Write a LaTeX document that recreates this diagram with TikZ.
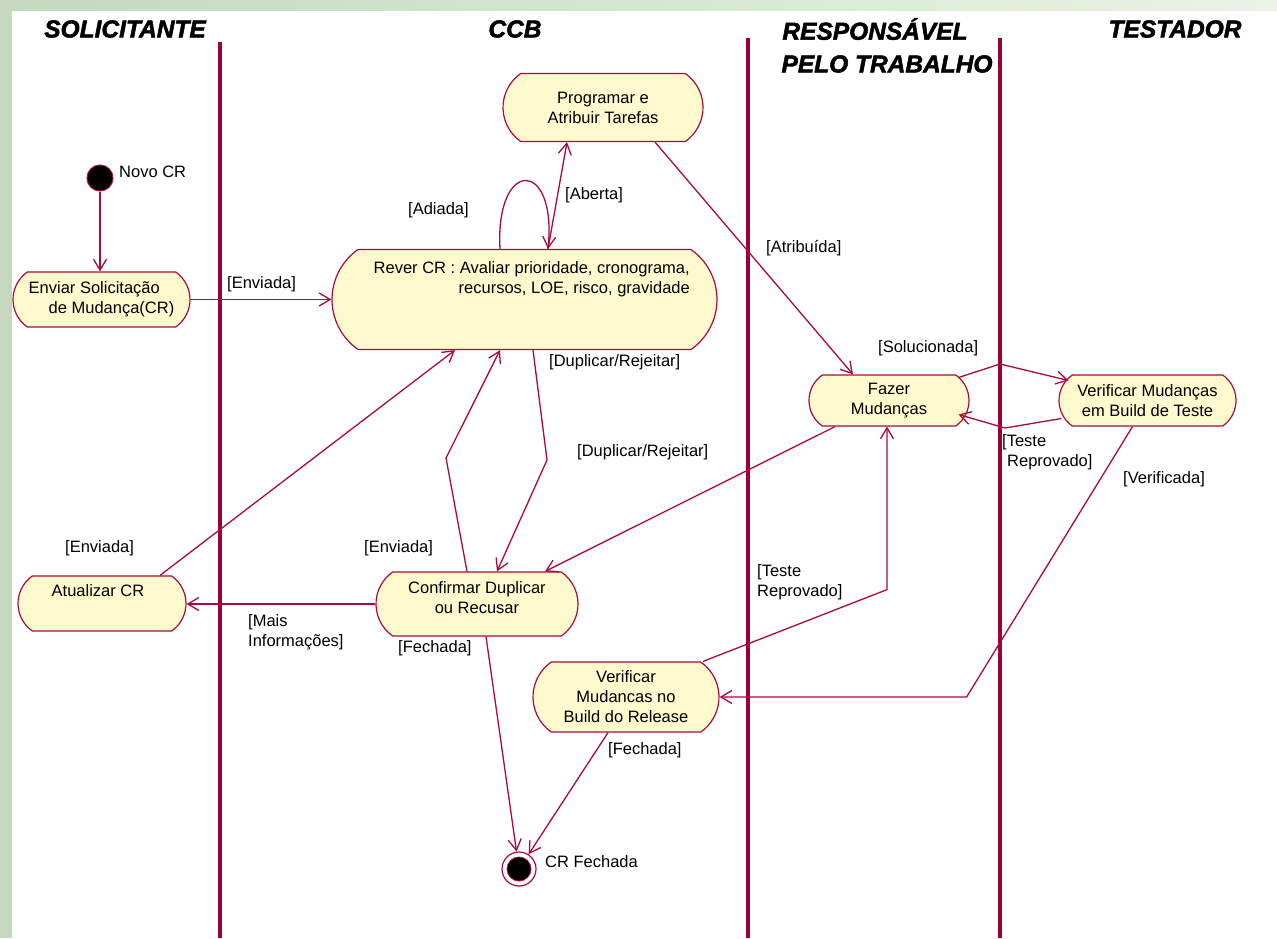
\documentclass[tikz,border=0pt]{standalone}
\usepackage{fontspec}
\setmainfont{Liberation Sans}
\newfontfamily\hdrfont{Liberation Sans Bold Italic}[FakeBold=2]
\usetikzlibrary{shapes.misc,arrows.meta,calc}
\definecolor{lane}{RGB}{155,0,55}
\definecolor{edgecol}{RGB}{170,10,60}
\definecolor{actfill}{RGB}{255,250,205}
\definecolor{frameL}{RGB}{197,216,190}
\definecolor{frameR}{RGB}{232,244,230}
\newcommand\dfont{\fontsize{16.5}{20}\selectfont}
\tikzset{
  act/.style={rounded rectangle, rounded rectangle arc length=110, draw=edgecol, fill=actfill,
    line width=1.2pt, align=center, font=\dfont, inner sep=0pt},
  lbl/.style={font=\dfont, inner sep=0pt, anchor=west, align=left},
  hdr/.style={font=\hdrfont\fontsize{24.5}{28}\selectfont, inner sep=0pt},
  lanestyle/.style={draw=lane, line width=3.5pt},
  conn/.style={draw=edgecol, line width=1.3pt,
    -{Straight Barb[length=11pt,width=13pt,line width=1.3pt]}},
}
\begin{document}
\begin{tikzpicture}[x=1pt,y=-1pt]
\useasboundingbox (0,0) rectangle (1277,938);
\fill[white] (0,0) rectangle (1277,938);
\shade[left color=frameL,right color=frameR] (0,0) rectangle (1277,10);
\fill[frameL] (0,0) rectangle (12,938);

% headers
\node[hdr] (h1) at (125,29) {SOLICITANTE};
\node[hdr] (h2) at (515,29) {CCB};
\node[hdr] (h3a) at (875,29) {RESPONSÁVEL};
\node[hdr] (h3b) at (887,64) {PELO TRABALHO};
\node[hdr] (h4) at (1175,29) {TESTADOR};

% lanes
\draw[lanestyle] (220,42) -- (220,938);
\draw[lanestyle] (748,38) -- (748,938);
\draw[lanestyle] (1000,38) -- (1000,938);

% nodes
\node[circle, fill=black, draw=edgecol, line width=1pt, minimum size=26pt, inner sep=0pt] (start) at (100,178) {};
\node[lbl] (novo) at (119,172) {Novo CR};
\node[act, minimum width=177pt, minimum height=55pt, align=left] (enviar) at (101.5,299.5)
  {Enviar Solicitação\\\hspace*{20pt}de Mudança(CR)};
\node[act, minimum width=385pt, minimum height=100pt] (rever) at (524.5,299.5) {};
\node[lbl, anchor=north east, align=right] (revertxt) at (690,261)
  {Rever CR : Avaliar prioridade, cronograma,\\recursos, LOE, risco, gravidade};
\node[act, minimum width=200pt, minimum height=68pt] (prog) at (603,107.5) {Programar e\\Atribuir Tarefas};
\node[act, minimum width=160pt, minimum height=51pt] (fazer) at (889,400.5) {Fazer\\Mudanças};
\node[act, minimum width=177pt, minimum height=51pt] (verteste) at (1147.5,400.5) {Verificar Mudanças\\em Build de Teste};
\node[act, minimum width=168pt, minimum height=55pt] (atual) at (102,603.5) {};
\node[lbl, anchor=center] (atualtxt) at (98,591) {Atualizar CR};
\node[act, minimum width=202pt, minimum height=64pt] (confirm) at (477,604) {};
\node[lbl, anchor=center, align=center] (confirmtxt) at (477,598) {Confirmar Duplicar\\ou Recusar};
\node[act, minimum width=186pt, minimum height=70pt] (release) at (626,697) {Verificar\\Mudancas no\\Build do Release};
\node[circle, draw=edgecol, fill=white, line width=1.2pt, minimum size=34pt, inner sep=0pt] (endc) at (519,869) {};
\node[circle, fill=black, draw=edgecol, line width=0.8pt, minimum size=24pt, inner sep=0pt] (endin) at (endc) {};
\node[lbl] (crf) at (545,862) {CR Fechada};

% connectors
\draw[conn] (start) -- (enviar.north -| start);
\draw[conn] (enviar.east) -- (enviar.east -| rever.west);
\node[lbl] (l1) at (227,284) {[Enviada]};

\draw[conn] ($(rever.north)+(23.5,0)$) -- ($(prog.south)+(-36,0)$);
\node[lbl] (l2) at (565,195) {[Aberta]};

\draw[conn] ($(rever.north)+(-24.5,0)$) .. controls (495,158) and (557,158) .. ($(rever.north)+(23.5,0)$);
\node[lbl] (l3) at (408,210) {[Adiada]};

\draw[conn] ($(prog.south)+(52,0)$) -- ($(fazer.north)+(-36,0)$);
\node[lbl] (l4) at (766,248) {[Atribuída]};

\draw[conn] ($(fazer.east)+(-11,-23)$) -- (1000,364) -- ($(verteste.west)+(10,-20)$);
\node[lbl] (l5) at (878,348) {[Solucionada]};

\draw[conn] ($(verteste.west)+(3,18)$) -- (1005,428) -- ($(fazer.east)+(-11,14)$);
\node[lbl] (l6) at (1002,452) {[Teste\\\hspace*{5pt}Reprovado]};

\draw[conn] ($(verteste.south)+(-15,0)$) -- ($(release.east)+(247,0)$) -- (release.east);
\node[lbl] (l7) at (1123,479) {[Verificada]};

\draw[conn] ($(release.north)+(77,0)$) -- ($(fazer.south)+(-2,163)$) -- ($(fazer.south)+(-2,0)$);
\node[lbl] (l8) at (757,582) {[Teste\\Reprovado]};

\draw[conn] ($(fazer.south)+(-54,0)$) -- ($(confirm.north)+(68,0)$);
\node[lbl] (l9) at (577,452) {[Duplicar/Rejeitar]};

\draw[conn] ($(rever.south)+(8.5,0)$) -- (547,460) -- ($(confirm.north)+(20,0)$);
\node[lbl] (l10) at (549,362) {[Duplicar/Rejeitar]};

\draw[conn] ($(confirm.north)+(-10,0)$) -- (446,458) -- ($(rever.south)+(-24.5,0)$);
\node[lbl] (l11) at (364,548) {[Enviada]};

\draw[conn] ($(atual.north)+(58,0)$) -- ($(rever.south)+(-69.5,0)$);
\node[lbl] (l12) at (65,548) {[Enviada]};

\draw[conn] (confirm.west) -- (confirm.west -| atual.east);
\node[lbl] (l13) at (248,632) {[Mais\\Informações]};

\draw[conn] ($(confirm.south)+(9,0)$) -- (endc);
\node[lbl] (l14) at (398,648) {[Fechada]};

\draw[conn] ($(release.south)+(-18,0)$) -- (endc);
\node[lbl] (l15) at (608,750) {[Fechada]};
\end{tikzpicture}
\end{document}
